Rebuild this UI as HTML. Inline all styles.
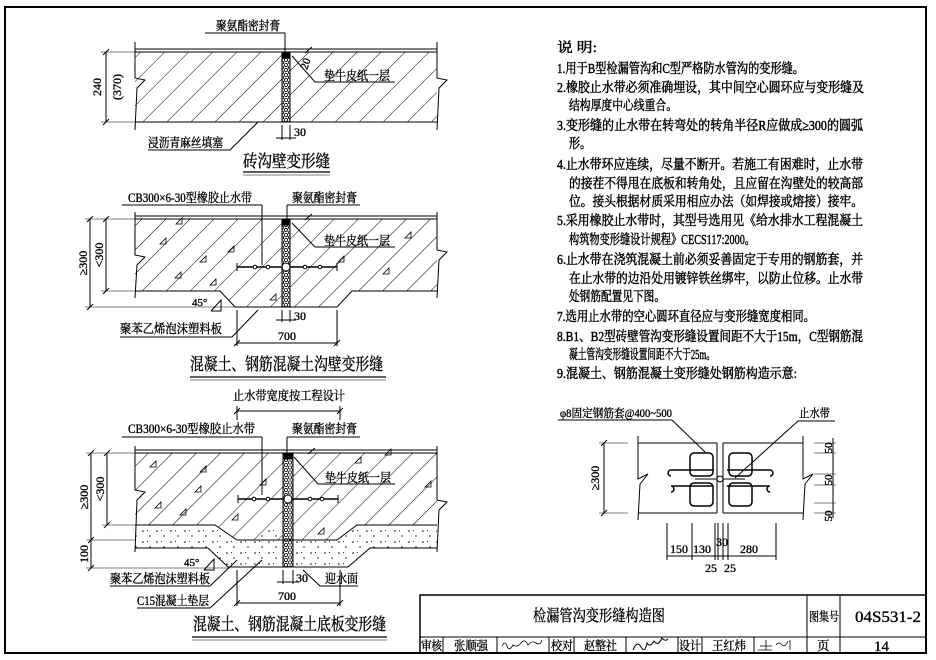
<!DOCTYPE html>
<html><head><meta charset="utf-8"><style>
html,body{margin:0;padding:0;background:#fff;}
svg{display:block;}
text{font-family:"Liberation Serif","Noto Serif CJK SC","Noto Sans CJK SC",serif;fill:#000;stroke:#000;stroke-width:0.35;}
.n text{stroke-width:0.45;}
</style></head><body>
<svg width="936" height="660" viewBox="0 0 936 660" xmlns="http://www.w3.org/2000/svg">
<defs>
<pattern id="h" patternUnits="userSpaceOnUse" width="17" height="17" patternTransform="rotate(45)">
<line x1="0" y1="0" x2="0" y2="17" stroke="#000" stroke-width="1"/>
</pattern>
<pattern id="dot" patternUnits="userSpaceOnUse" width="14" height="11">
<circle cx="3" cy="3" r="0.8" fill="#000"/><circle cx="10" cy="8" r="0.7" fill="#000"/><rect x="7" y="2" width="1" height="1" fill="#333"/>
</pattern>
<pattern id="jt" patternUnits="userSpaceOnUse" width="8" height="5">
<circle cx="2" cy="2.5" r="1.6" fill="none" stroke="#000" stroke-width="0.8"/><circle cx="6" cy="0" r="1.6" fill="none" stroke="#000" stroke-width="0.8"/><circle cx="6" cy="5" r="1.6" fill="none" stroke="#000" stroke-width="0.8"/>
</pattern>
</defs>
<rect width="936" height="660" fill="#fff"/>
<rect x="5" y="7" width="921" height="646" fill="none" stroke="#000" stroke-width="2"/>

<g stroke="#000" fill="none" stroke-width="1">
<!-- ===== Drawing 1 ===== -->
<line x1="135" y1="49" x2="437" y2="49"/>
<polygon points="135,52 282,52 282,122 135,122" fill="url(#h)" stroke="none"/>
<polygon points="290,52 437,52 437,122 290,122" fill="url(#h)" stroke="none"/>
<line x1="135" y1="52" x2="437" y2="52"/>
<line x1="135" y1="122" x2="437" y2="122"/>
<polyline points="135,42 135,78 145,80 137,88 135,130"/>
<polyline points="437,42 437,78 447,80 439,88 437,130"/>
<rect x="282" y="52" width="8" height="70" fill="url(#jt)"/>
<rect x="282" y="52" width="8" height="6" fill="#000"/>
<line x1="282" y1="52" x2="282" y2="122"/><line x1="290" y1="52" x2="290" y2="122"/>
<line x1="106" y1="52" x2="106" y2="122"/>
<line x1="101" y1="52" x2="140" y2="52" stroke-width="0.6"/><line x1="101" y1="122" x2="140" y2="122" stroke-width="0.6"/>
<line x1="103" y1="55" x2="109" y2="49"/><line x1="103" y1="125" x2="109" y2="119"/>
<line x1="205" y1="33" x2="285" y2="33"/><line x1="285" y1="33" x2="285" y2="52"/>
<polyline points="292,56 315,82 395,82"/>
<line x1="305" y1="53" x2="312" y2="47"/>
<polyline points="148,150 230,150 258,122"/>
<line x1="282" y1="125" x2="282" y2="140"/><line x1="290" y1="125" x2="290" y2="140"/>
<line x1="276" y1="138" x2="296" y2="138"/>
<line x1="243" y1="172" x2="330" y2="172" stroke-width="1.2"/><line x1="243" y1="175" x2="330" y2="175" stroke-width="0.6"/>

<!-- ===== Drawing 2 ===== -->
<line x1="135" y1="216" x2="437" y2="216"/>
<polygon points="135,219 282,219 282,307 235,307 220,291 135,291" fill="url(#h)" stroke="none"/>
<polygon points="290,219 437,219 437,291 352,291 337,307 290,307" fill="url(#h)" stroke="none"/>
<line x1="135" y1="219" x2="437" y2="219"/>
<polyline points="135,291 220,291 235,307 337,307 352,291 437,291"/>
<polyline points="135,212 135,255 145,257 137,265 135,298"/>
<polyline points="437,212 437,250 447,252 439,260 437,298"/>
<rect x="282" y="219" width="8" height="88" fill="url(#jt)"/>
<rect x="282" y="219" width="8" height="6" fill="#000"/>
<line x1="282" y1="219" x2="282" y2="307"/><line x1="290" y1="219" x2="290" y2="307"/>
<line x1="237" y1="267" x2="337" y2="267" stroke-width="1.5"/>
<line x1="237" y1="263" x2="237" y2="271"/><line x1="337" y1="263" x2="337" y2="271"/>
<circle cx="286" cy="267" r="4" fill="#fff"/>
<circle cx="255" cy="267" r="1.8" fill="#fff"/><circle cx="268" cy="267" r="1.8" fill="#fff"/><circle cx="305" cy="267" r="1.8" fill="#fff"/><circle cx="320" cy="267" r="1.8" fill="#fff"/>
<line x1="90" y1="219" x2="90" y2="307"/><line x1="106" y1="219" x2="106" y2="291"/>
<line x1="85" y1="219" x2="135" y2="219" stroke-width="0.5"/>
<line x1="85" y1="307" x2="235" y2="307" stroke-width="0.5"/>
<line x1="101" y1="291" x2="135" y2="291" stroke-width="0.5"/>
<line x1="87" y1="222" x2="93" y2="216"/><line x1="87" y1="310" x2="93" y2="304"/><line x1="103" y1="222" x2="109" y2="216"/><line x1="103" y1="294" x2="109" y2="288"/>
<line x1="122" y1="205" x2="262" y2="205"/><line x1="262" y1="205" x2="262" y2="265"/>
<line x1="287" y1="205" x2="360" y2="205"/><line x1="287" y1="205" x2="287" y2="219"/>
<polyline points="292,223 315,247 395,247"/>
<line x1="305" y1="220" x2="312" y2="214"/>
<polyline points="211,311 221,300 221,311 211,311"/>
<polyline points="120,337 232,337 258,310"/>
<line x1="237" y1="310" x2="237" y2="346"/><line x1="337" y1="310" x2="337" y2="346"/>
<line x1="237" y1="343" x2="337" y2="343"/>
<line x1="234" y1="346" x2="240" y2="340"/><line x1="334" y1="346" x2="340" y2="340"/>
<line x1="282" y1="310" x2="282" y2="322"/><line x1="290" y1="310" x2="290" y2="322"/>
<line x1="276" y1="320" x2="296" y2="320"/>
<line x1="190" y1="377" x2="386" y2="377" stroke-width="1.2"/><line x1="190" y1="380" x2="386" y2="380" stroke-width="0.6"/>
<g stroke-width="0.8">
<polygon points="160,244 166,238 166,244"/><polygon points="175,278 181,272 181,278"/><polygon points="200,262 206,256 206,262"/><polygon points="210,285 216,279 216,285"/><polygon points="228,252 234,246 234,252"/><polygon points="270,300 276,294 276,300"/><polygon points="338,262 344,256 344,262"/><polygon points="383,274 389,268 389,274"/><polygon points="405,238 411,232 411,238"/><polygon points="176,224 182,218 182,224"/>
</g>

<!-- ===== Drawing 3 ===== -->
<line x1="237" y1="411" x2="340" y2="411"/>
<line x1="237" y1="406" x2="237" y2="420"/><line x1="340" y1="406" x2="340" y2="420"/>
<line x1="234" y1="414" x2="240" y2="408"/><line x1="337" y1="414" x2="343" y2="408"/>
<line x1="135" y1="450" x2="437" y2="450"/>
<polygon points="135,548 208,548 228,567 283,567 283,525 237,540 215,525 135,525" fill="url(#dot)" stroke="none"/>
<polygon points="293,567 348,567 370,548 437,548 437,525 357,525 337,540 293,540" fill="url(#dot)" stroke="none"/>
<polygon points="135,453 283,453 283,540 237,540 215,525 135,525" fill="url(#h)" stroke="none"/>
<polygon points="293,453 437,453 437,525 357,525 337,540 293,540" fill="url(#h)" stroke="none"/>
<line x1="135" y1="453" x2="437" y2="453"/>
<polyline points="135,525 215,525 237,540 337,540 357,525 437,525"/>
<polyline points="135,548 208,548 228,567 348,567 370,548 437,548"/>
<polyline points="135,446 135,490 145,492 137,500 135,552"/>
<polyline points="437,446 437,500 447,502 439,510 437,552"/>
<rect x="283" y="453" width="10" height="114" fill="url(#jt)"/>
<rect x="283" y="453" width="10" height="6" fill="#000"/>
<line x1="283" y1="453" x2="283" y2="567"/><line x1="293" y1="453" x2="293" y2="567"/>
<line x1="238" y1="499" x2="338" y2="499" stroke-width="1.5"/>
<line x1="238" y1="495" x2="238" y2="503"/><line x1="338" y1="495" x2="338" y2="503"/>
<circle cx="288" cy="499" r="4" fill="#fff"/>
<circle cx="254" cy="499" r="1.8" fill="#fff"/><circle cx="268" cy="499" r="1.8" fill="#fff"/><circle cx="310" cy="499" r="1.8" fill="#fff"/><circle cx="322" cy="499" r="1.8" fill="#fff"/>
<line x1="91" y1="453" x2="91" y2="568"/><line x1="107" y1="453" x2="107" y2="525"/>
<line x1="86" y1="453" x2="135" y2="453" stroke-width="0.5"/>
<line x1="86" y1="540" x2="135" y2="540" stroke-width="0.5"/>
<line x1="86" y1="568" x2="228" y2="568" stroke-width="0.5"/>
<line x1="102" y1="525" x2="135" y2="525" stroke-width="0.5"/>
<line x1="88" y1="456" x2="94" y2="450"/><line x1="88" y1="543" x2="94" y2="537"/><line x1="88" y1="571" x2="94" y2="565"/><line x1="104" y1="456" x2="110" y2="450"/><line x1="104" y1="528" x2="110" y2="522"/>
<line x1="122" y1="437" x2="262" y2="437"/><line x1="262" y1="437" x2="262" y2="495"/>
<line x1="287" y1="437" x2="360" y2="437"/><line x1="287" y1="437" x2="287" y2="453"/>
<polyline points="294,457 318,484 395,484"/>
<line x1="308" y1="454" x2="315" y2="448"/>
<polyline points="204,570 214,559 214,570 204,570"/>
<polyline points="110,586 210,586 237,560"/>
<polyline points="137,608 210,608 262,560"/>
<polyline points="303,570 320,586 358,586"/>
<line x1="237" y1="570" x2="237" y2="606"/><line x1="340" y1="570" x2="340" y2="606"/>
<line x1="237" y1="603" x2="340" y2="603"/>
<line x1="234" y1="606" x2="240" y2="600"/><line x1="337" y1="606" x2="343" y2="600"/>
<line x1="283" y1="570" x2="283" y2="584"/><line x1="293" y1="570" x2="293" y2="584"/>
<line x1="277" y1="582" x2="299" y2="582"/>
<line x1="192" y1="637" x2="387" y2="637" stroke-width="1.2"/><line x1="192" y1="640" x2="387" y2="640" stroke-width="0.6"/>
<g stroke-width="0.8">
<polygon points="150,467 156,461 156,467"/><polygon points="200,472 206,466 206,472"/><polygon points="195,492 201,486 201,492"/><polygon points="155,508 161,502 161,508"/><polygon points="180,515 186,509 186,515"/><polygon points="232,520 238,514 238,520"/><polygon points="260,485 266,479 266,485"/><polygon points="318,534 324,528 324,534"/><polygon points="385,455 391,449 391,455"/><polygon points="425,487 431,481 431,487"/><polygon points="355,463 361,457 361,463"/>
</g>

<!-- ===== Rebar detail ===== -->
<line x1="558" y1="420" x2="672" y2="420"/><line x1="672" y1="420" x2="705" y2="452"/>
<line x1="798" y1="421" x2="835" y2="421"/><line x1="798" y1="421" x2="735" y2="478"/>
<line x1="638" y1="443" x2="717" y2="443"/><line x1="638" y1="513" x2="717" y2="513"/>
<line x1="723" y1="443" x2="803" y2="443"/><line x1="723" y1="513" x2="803" y2="513"/>
<line x1="717" y1="443" x2="717" y2="513"/><line x1="723" y1="443" x2="723" y2="513"/>
<polyline points="638,436 638,479 648,474 640,484 638,520"/>
<polyline points="803,436 803,479 813,474 805,484 803,520"/>
<g stroke-width="1.5">
<rect x="690" y="453" width="23" height="23" rx="4"/><rect x="690" y="483" width="23" height="23" rx="4"/>
<rect x="729" y="453" width="23" height="23" rx="4"/><rect x="729" y="483" width="23" height="23" rx="4"/>
<path d="M713,470 H671 a3,3 0 0 0 0,6"/><path d="M713,486 H671 a3,3 0 0 1 0,6"/>
<path d="M727,470 H770 a3,3 0 0 1 0,6"/><path d="M727,486 H770 a3,3 0 0 0 0,6"/>
</g>
<line x1="695" y1="479" x2="745" y2="479"/>
<circle cx="720" cy="479" r="3" fill="#fff"/>
<line x1="604" y1="443" x2="604" y2="513"/>
<line x1="599" y1="443" x2="628" y2="443" stroke-width="0.5"/><line x1="599" y1="513" x2="628" y2="513" stroke-width="0.5"/>
<line x1="601" y1="446" x2="607" y2="440"/><line x1="601" y1="516" x2="607" y2="510"/>
<line x1="814" y1="443" x2="836" y2="443" stroke-width="0.5"/><line x1="814" y1="453" x2="836" y2="453" stroke-width="0.5"/>
<line x1="814" y1="474" x2="836" y2="474" stroke-width="0.5"/><line x1="814" y1="485" x2="836" y2="485" stroke-width="0.5"/>
<line x1="814" y1="503" x2="836" y2="503" stroke-width="0.5"/><line x1="814" y1="513" x2="836" y2="513" stroke-width="0.5"/>
<line x1="833" y1="438" x2="833" y2="518"/>
<line x1="667" y1="523" x2="667" y2="560"/><line x1="692" y1="523" x2="692" y2="560"/><line x1="715" y1="523" x2="715" y2="560"/><line x1="718" y1="523" x2="718" y2="560"/><line x1="723" y1="523" x2="723" y2="560"/><line x1="728" y1="523" x2="728" y2="560"/><line x1="776" y1="523" x2="776" y2="560"/>
<line x1="667" y1="556" x2="776" y2="556"/>
</g>

<!-- Labels -->
<g font-size="12.5">
<text x="216" y="30" textLength="64" lengthAdjust="spacingAndGlyphs">聚氨酯密封膏</text>
<text x="324" y="80" textLength="66" lengthAdjust="spacingAndGlyphs">垫牛皮纸一层</text>
<text x="148" y="147" textLength="75" lengthAdjust="spacingAndGlyphs">浸沥青麻丝填塞</text>
<text x="294" y="136" font-size="12">30</text>
<text x="300" y="68" font-size="11" transform="rotate(-70 305 64)">20</text>
<text transform="translate(101,87) rotate(-90)" font-size="12" text-anchor="middle">240</text>
<text transform="translate(121,87) rotate(-90)" font-size="12" text-anchor="middle">(370)</text>
<text x="243" y="167" font-size="17" textLength="87" lengthAdjust="spacingAndGlyphs">砖沟壁变形缝</text>

<text x="128" y="202" textLength="124" lengthAdjust="spacingAndGlyphs">CB300×6-30型橡胶止水带</text>
<text x="292" y="202" textLength="65" lengthAdjust="spacingAndGlyphs">聚氨酯密封膏</text>
<text x="324" y="245" textLength="66" lengthAdjust="spacingAndGlyphs">垫牛皮纸一层</text>
<text transform="translate(87,263) rotate(-90)" font-size="12" text-anchor="middle">≥300</text>
<text transform="translate(103,255) rotate(-90)" font-size="12" text-anchor="middle">&lt;300</text>
<text x="192" y="306" font-size="11">45°</text>
<text x="120" y="333" textLength="102" lengthAdjust="spacingAndGlyphs">聚苯乙烯泡沫塑料板</text>
<text x="294" y="320" font-size="12">30</text>
<text x="278" y="340" font-size="12">700</text>
<text x="190" y="370" font-size="17" textLength="193" lengthAdjust="spacingAndGlyphs">混凝土、钢筋混凝土沟壁变形缝</text>

<text x="233" y="400" textLength="112" lengthAdjust="spacingAndGlyphs">止水带宽度按工程设计</text>
<text x="128" y="433" textLength="127" lengthAdjust="spacingAndGlyphs">CB300×6-30型橡胶止水带</text>
<text x="292" y="433" textLength="65" lengthAdjust="spacingAndGlyphs">聚氨酯密封膏</text>
<text x="325" y="482" textLength="66" lengthAdjust="spacingAndGlyphs">垫牛皮纸一层</text>
<text transform="translate(88,497) rotate(-90)" font-size="12" text-anchor="middle">≥300</text>
<text transform="translate(104,489) rotate(-90)" font-size="12" text-anchor="middle">&lt;300</text>
<text transform="translate(88,554) rotate(-90)" font-size="12" text-anchor="middle">100</text>
<text x="184" y="566" font-size="11">45°</text>
<text x="110" y="583" textLength="100" lengthAdjust="spacingAndGlyphs">聚苯乙烯泡沫塑料板</text>
<text x="137" y="605" textLength="72" lengthAdjust="spacingAndGlyphs">C15混凝土垫层</text>
<text x="325" y="583" textLength="33" lengthAdjust="spacingAndGlyphs">迎水面</text>
<text x="296" y="582" font-size="12">30</text>
<text x="278" y="600" font-size="12">700</text>
<text x="193" y="630" font-size="17" textLength="193" lengthAdjust="spacingAndGlyphs">混凝土、钢筋混凝土底板变形缝</text>

<text x="560" y="417" font-size="11.5" textLength="112" lengthAdjust="spacingAndGlyphs">φ8固定钢筋套@400~500</text>
<text x="799" y="417" font-size="11.5" textLength="31" lengthAdjust="spacingAndGlyphs">止水带</text>
<text transform="translate(599,478) rotate(-90)" font-size="12" text-anchor="middle">≥300</text>
<text transform="translate(832,448) rotate(-90)" font-size="11" text-anchor="middle">50</text>
<text transform="translate(832,480) rotate(-90)" font-size="11" text-anchor="middle">50</text>
<text transform="translate(832,516) rotate(-90)" font-size="11" text-anchor="middle">50</text>
<text x="670" y="553" font-size="12">150</text>
<text x="693" y="553" font-size="12">130</text>
<text x="716" y="546" font-size="12">30</text>
<text x="740" y="553" font-size="12">280</text>
<text x="705" y="572" font-size="12">25</text>
<text x="724" y="572" font-size="12">25</text>
</g>

<!-- Notes -->
<g font-size="13.5" class="n">
<text x="557" y="52" textLength="40" lengthAdjust="spacingAndGlyphs">说 明:</text>
<text x="557" y="73" textLength="247" lengthAdjust="spacingAndGlyphs">1.用于B型检漏管沟和C型严格防水管沟的变形缝。</text>
<text x="557" y="92" textLength="307" lengthAdjust="spacingAndGlyphs">2.橡胶止水带必须准确埋设，其中间空心圆环应与变形缝及</text>
<text x="569" y="110" textLength="108" lengthAdjust="spacingAndGlyphs">结构厚度中心线重合。</text>
<text x="557" y="130" textLength="306" lengthAdjust="spacingAndGlyphs">3.变形缝的止水带在转弯处的转角半径R应做成≥300的圆弧</text>
<text x="569" y="148" textLength="22" lengthAdjust="spacingAndGlyphs">形。</text>
<text x="557" y="169" textLength="306" lengthAdjust="spacingAndGlyphs">4.止水带环应连续，尽量不断开。若施工有困难时，止水带</text>
<text x="569" y="188" textLength="294" lengthAdjust="spacingAndGlyphs">的接茬不得甩在底板和转角处，且应留在沟壁处的较高部</text>
<text x="569" y="206" textLength="294" lengthAdjust="spacingAndGlyphs">位。接头根据材质采用相应办法（如焊接或熔接）接牢。</text>
<text x="557" y="225" textLength="306" lengthAdjust="spacingAndGlyphs">5.采用橡胶止水带时，其型号选用见《给水排水工程混凝土</text>
<text x="569" y="244" textLength="186" lengthAdjust="spacingAndGlyphs">构筑物变形缝设计规程》CECS117:2000。</text>
<text x="557" y="264" textLength="306" lengthAdjust="spacingAndGlyphs">6.止水带在浇筑混凝土前必须妥善固定于专用的钢筋套，并</text>
<text x="569" y="283" textLength="294" lengthAdjust="spacingAndGlyphs">在止水带的边沿处用镀锌铁丝绑牢，以防止位移。止水带</text>
<text x="569" y="301" textLength="96" lengthAdjust="spacingAndGlyphs">处钢筋配置见下图。</text>
<text x="557" y="321" textLength="258" lengthAdjust="spacingAndGlyphs">7.选用止水带的空心圆环直径应与变形缝宽度相同。</text>
<text x="557" y="341" textLength="306" lengthAdjust="spacingAndGlyphs">8.B1、B2型砖壁管沟变形缝设置间距不大于15m，C型钢筋混</text>
<text x="569" y="359" textLength="146" lengthAdjust="spacingAndGlyphs">凝土管沟变形缝设置间距不大于25m。</text>
<text x="557" y="378" textLength="240" lengthAdjust="spacingAndGlyphs">9.混凝土、钢筋混凝土变形缝处钢筋构造示意:</text>
</g>

<!-- Title block -->
<g stroke="#000" fill="none">
<rect x="420" y="595" width="506" height="58" stroke-width="1.5"/>
<line x1="420" y1="637" x2="926" y2="637"/>
<line x1="807" y1="595" x2="807" y2="653"/><line x1="840" y1="595" x2="840" y2="653"/>
<line x1="443" y1="637" x2="443" y2="653"/><line x1="497" y1="637" x2="497" y2="653"/><line x1="549" y1="637" x2="549" y2="653"/><line x1="574" y1="637" x2="574" y2="653"/><line x1="626" y1="637" x2="626" y2="653"/><line x1="678" y1="637" x2="678" y2="653"/><line x1="702" y1="637" x2="702" y2="653"/><line x1="754" y1="637" x2="754" y2="653"/>
<path d="M502,646 q3,-6 5,0 t6,-1 q4,3 8,-2 t7,2 q4,-5 8,-2 t6,-3" stroke-width="0.8"/>
<path d="M633,650 q4,-10 8,-3 t6,-4 q3,5 7,-2 q4,6 8,-3 q3,4 6,1" stroke-width="1"/>
<path d="M760,646 h12 M766,640 v10 h-8 h14 M776,645 q3,-4 6,0 q3,3 6,-4 M790,640 v10" stroke-width="0.8"/>
</g>
<g font-size="12.5">
<text x="533" y="621" font-size="16" textLength="132" lengthAdjust="spacingAndGlyphs">检漏管沟变形缝构造图</text>
<text x="809" y="621" font-size="12.5" textLength="30" lengthAdjust="spacingAndGlyphs">图集号</text>
<text x="855" y="622" font-size="16" textLength="66" lengthAdjust="spacingAndGlyphs">04S531-2</text>
<text x="421" y="650" textLength="21" lengthAdjust="spacingAndGlyphs">审核</text>
<text x="454" y="650" textLength="34" lengthAdjust="spacingAndGlyphs">张顺强</text>
<text x="551" y="650" textLength="22" lengthAdjust="spacingAndGlyphs">校对</text>
<text x="584" y="650" textLength="33" lengthAdjust="spacingAndGlyphs">赵整社</text>
<text x="679" y="650" textLength="22" lengthAdjust="spacingAndGlyphs">设计</text>
<text x="712" y="650" textLength="34" lengthAdjust="spacingAndGlyphs">王红炜</text>
<text x="817" y="650">页</text>
<text x="874" y="651" font-size="15">14</text>
</g>
</svg>
</body></html>
